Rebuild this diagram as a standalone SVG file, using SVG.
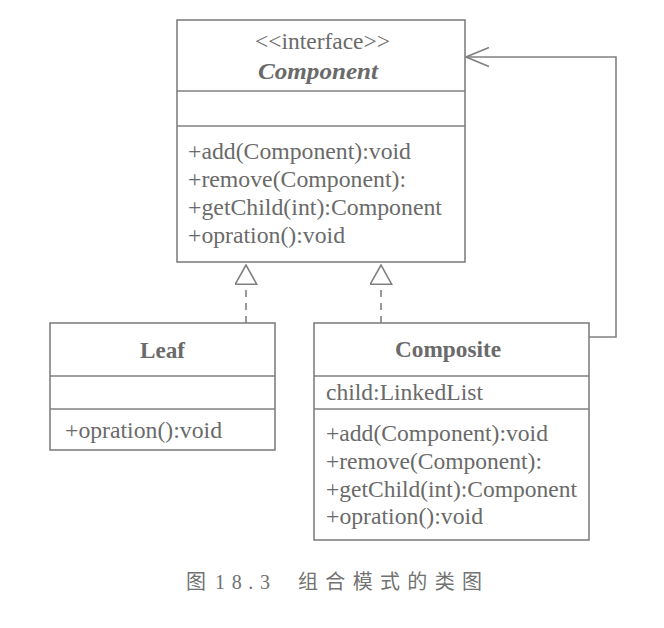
<svg xmlns="http://www.w3.org/2000/svg" width="664" height="628" viewBox="0 0 664 628">
<style>
.box{fill:#ffffff;stroke:#808080;stroke-width:1.6}
.div{stroke:#808080;stroke-width:1.4}
.t{font-family:"Liberation Serif","Times New Roman",serif;font-size:22.5px;fill:#6a6a6a}
.b{font-weight:bold}
.bi{font-weight:bold;font-style:italic}
.conn{fill:none;stroke:#808080;stroke-width:1.6}
.dash{stroke-dasharray:7,6}
.cap{font-family:"Liberation Serif","Noto Sans CJK SC",serif;font-size:20px;fill:#727272}
</style>
<defs>
<marker id="tri" viewBox="0 0 21 23" refX="20" refY="11.5" markerWidth="21" markerHeight="23" markerUnits="userSpaceOnUse" orient="auto">
<path d="M0.8,0.8 L20,11.5 L0.8,22.2 Z" fill="#ffffff" stroke="#808080" stroke-width="1.6"/>
</marker>
<marker id="open" viewBox="0 0 25 21" refX="24" refY="10.5" markerWidth="25" markerHeight="21" markerUnits="userSpaceOnUse" orient="auto">
<path d="M1,1 L24,10.5 L1,20" fill="none" stroke="#808080" stroke-width="1.6"/>
</marker>
</defs>
<rect width="664" height="628" fill="#ffffff"/>

<g id="connectors">
<line class="conn dash" x1="246" y1="323" x2="246" y2="265" marker-end="url(#tri)"/>
<line class="conn dash" x1="381" y1="323" x2="381" y2="265" marker-end="url(#tri)"/>
<polyline class="conn" points="589,337 616,337 616,57 466,57" marker-end="url(#open)"/>
</g>

<g id="component">
<rect class="box" x="177" y="20" width="288" height="242"/>
<line class="div" x1="177" y1="91" x2="465" y2="91"/>
<line class="div" x1="177" y1="126" x2="465" y2="126"/>
<text class="t" x="255" y="49" textLength="135" lengthAdjust="spacingAndGlyphs">&lt;&lt;interface&gt;&gt;</text>
<text class="t bi" x="258" y="79" textLength="120" lengthAdjust="spacingAndGlyphs">Component</text>
<text class="t" x="188" y="159" textLength="223" lengthAdjust="spacingAndGlyphs">+add(Component):void</text>
<text class="t" x="188" y="187" textLength="218" lengthAdjust="spacingAndGlyphs">+remove(Component):</text>
<text class="t" x="188" y="215" textLength="254" lengthAdjust="spacingAndGlyphs">+getChild(int):Component</text>
<text class="t" x="188" y="243" textLength="157" lengthAdjust="spacingAndGlyphs">+opration():void</text>
</g>

<g id="leaf">
<rect class="box" x="50" y="323" width="225" height="127"/>
<line class="div" x1="50" y1="376" x2="275" y2="376"/>
<line class="div" x1="50" y1="409" x2="275" y2="409"/>
<text class="t b" x="140" y="358" textLength="45" lengthAdjust="spacingAndGlyphs">Leaf</text>
<text class="t" x="65" y="438" textLength="157" lengthAdjust="spacingAndGlyphs">+opration():void</text>
</g>

<g id="composite">
<rect class="box" x="314" y="323" width="275" height="217"/>
<line class="div" x1="314" y1="376" x2="589" y2="376"/>
<line class="div" x1="314" y1="409" x2="589" y2="409"/>
<text class="t b" x="395" y="357" textLength="106" lengthAdjust="spacingAndGlyphs">Composite</text>
<text class="t" x="326" y="400" textLength="157" lengthAdjust="spacingAndGlyphs">child:LinkedList</text>
<text class="t" x="326" y="441" textLength="222" lengthAdjust="spacingAndGlyphs">+add(Component):void</text>
<text class="t" x="326" y="469" textLength="216" lengthAdjust="spacingAndGlyphs">+remove(Component):</text>
<text class="t" x="326" y="497" textLength="251" lengthAdjust="spacingAndGlyphs">+getChild(int):Component</text>
<text class="t" x="326" y="524" textLength="157" lengthAdjust="spacingAndGlyphs">+opration():void</text>
</g>

<g id="caption">
<text class="cap" x="186" y="589">图</text>
<text class="cap" x="215" y="589" textLength="55" lengthAdjust="spacing">18.3</text>
<text class="cap" x="298" y="589" textLength="184" lengthAdjust="spacing">组合模式的类图</text>
</g>
</svg>
